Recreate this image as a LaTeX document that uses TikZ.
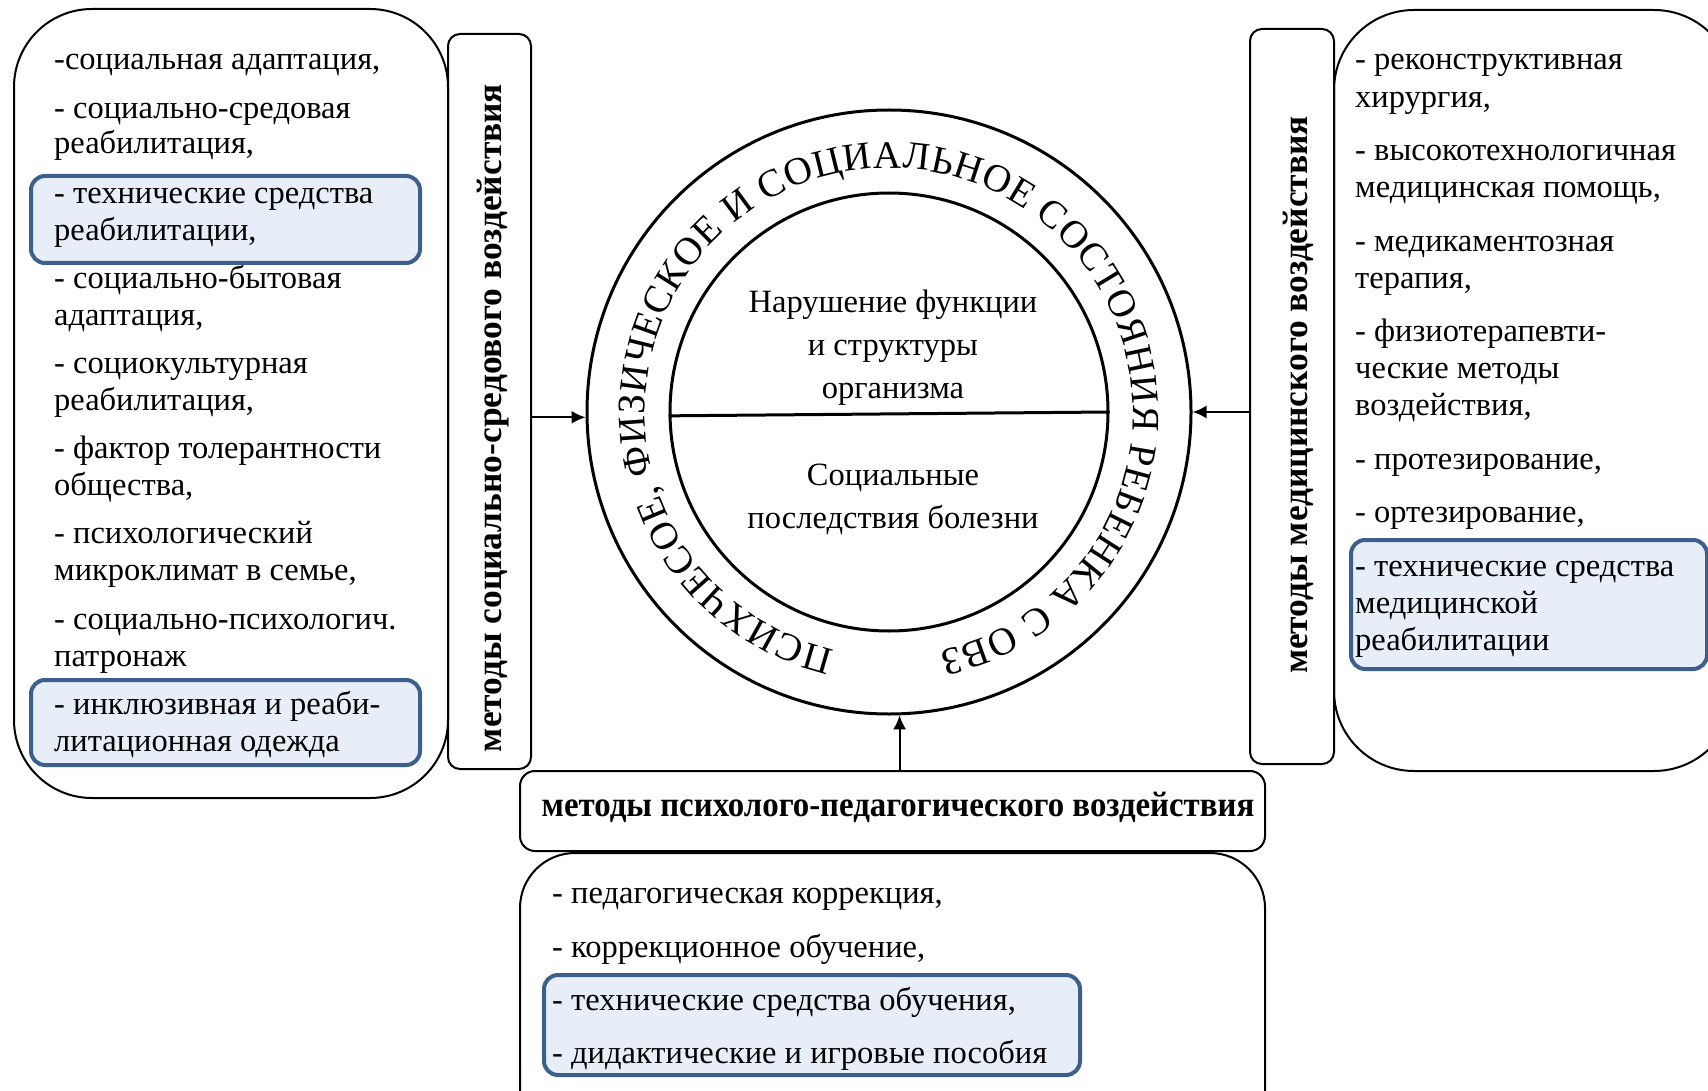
\documentclass[tikz,border=0pt]{standalone}
\usepackage{fontspec}
\setmainfont{Liberation Serif}
\usetikzlibrary{arrows.meta,decorations.text,calc}
\definecolor{hlfill}{HTML}{E8EEF7}
\definecolor{hlline}{HTML}{3D5F8E}
\newcommand{\lfnt}{\fontsize{32.5}{37}\selectfont}
\newcommand{\cfnt}{\fontsize{32.5}{43}\selectfont}
\newcommand{\bfnt}{\bfseries\fontsize{35.4}{40}\selectfont}
\newcommand{\rfnt}{\fontsize{39}{39}\selectfont}
\begin{document}
\begin{tikzpicture}[x=1pt,y=-1pt,
  box/.style={draw=black, line width=2pt, rounded corners=#1, anchor=north west, inner sep=0pt},
  hl/.style={draw=hlline, fill=hlfill, line width=4pt, rounded corners=14pt, anchor=north west, inner sep=0pt},
  txt/.style={anchor=west, inner sep=0pt, font=\lfnt, text height=22pt, text depth=7pt},
  ring/.style={circle, draw=black, line width=3pt, inner sep=0pt},
  arr/.style={line width=2pt, -{Latex[length=14pt,width=13pt]}},
  vlab/.style={rotate=90, font=\bfnt, inner sep=0pt}]
\useasboundingbox (0,0) rectangle (1708,1091);
\fill[white] (0,0) rectangle (1708,1091);

% left group
\node[box=78pt, minimum width=434pt, minimum height=789pt] (lbig) at (13,8) {};
\node[box=12pt, minimum width=83pt, minimum height=735pt] (lvbox) at (447,33) {};
\node[hl, minimum width=389pt, minimum height=87pt] (hl1) at (29,174) {};
\node[hl, minimum width=389pt, minimum height=85pt] (hl2) at (29,678) {};
\foreach \y/\t [count=\i] in {62/{-социальная адаптация,},111/{- социально-средовая},146/{реабилитация,},196/{- технические средства},233/{реабилитации,},281/{- социально-бытовая},318/{адаптация,},366/{- социокультурная},403/{реабилитация,},451/{- фактор толерантности},488/{общества,},536/{- психологический},573/{микроклимат в семье,},622/{- социально-психологич.},659/{патронаж},707/{- инклюзивная и реаби-},744/{литационная одежда}}
  \node[txt] (L\i) at (54,\y) {\t};
\node[vlab] (lvlab) at (493,418) {методы социально-средового воздействия};

% right group
\node[box=80pt, minimum width=400pt, minimum height=761pt] (rbig) at (1333,9) {};
\node[box=12pt, minimum width=84pt, minimum height=735pt] (rvbox) at (1249,28) {};
\node[hl, minimum width=356pt, minimum height=129pt] (hl3) at (1349,538) {};
\foreach \y/\t [count=\i] in {62/{- реконструктивная},100/{хирургия,},153/{- высокотехнологичная},190/{медицинская помощь,},244/{- медикаментозная},281/{терапия,},334/{- физиотерапевти-},371/{ческие методы},408/{воздействия,},462/{- протезирование,},515/{- ортезирование,},569/{- технические средства},606/{медицинской},643/{реабилитации}}
  \node[txt] (R\i) at (1355,\y) {\t};
\node[vlab] (rvlab) at (1298,395) {методы медицинского воздействия};

% bottom group
\node[box=15pt, minimum width=745pt, minimum height=80pt] (ptitle) at (519,770) {};
\node[font=\bfnt, inner sep=0pt, xscale=0.928] (ptlab) at (898,807) {методы психолого-педагогического воздействия};
\node[box=55pt, minimum width=745pt, minimum height=320pt] (plist) at (519,852) {};
\node[hl, minimum width=536pt, minimum height=100pt] (hl4) at (542,973) {};
\foreach \y/\t [count=\i] in {896/{- педагогическая коррекция,},950/{- коррекционное обучение,},1003/{- технические средства обучения,},1056/{- дидактические и игровые пособия}}
  \node[txt] (B\i) at (552,\y) {\t};

% circles
\node[ring, minimum size=604pt] (outer) at (889,412) {};
\node[ring, minimum size=438pt] (inner) at (889,412) {};
\draw[line width=3pt] (inner.181) -- (inner.0);
\node[align=center, font=\cfnt, inner sep=0pt] (upper) at (893,348) {Нарушение функции\\и структуры\\организма};
\node[align=center, font=\cfnt, inner sep=0pt] (lower) at (893,499) {Социальные\\последствия болезни};
\path[decorate, decoration={text along path, text align={fit to path},
  text={|\rfnt|ПСИХЧЕСОЕ, ФИЗИЧЕСКОЕ И СОЦИАЛЬНОЕ СОСТОЯНИЯ РЕБЕНКА С ОВЗ}}]
  ([shift={(outer.center)}]257:244pt) arc[start angle=257, end angle=-78, radius=244pt];

% arrows
\draw[arr] (lvbox.east |- outer.181) -- (outer.181);
\draw[arr] (rvbox.west |- outer.0) -- (outer.0);
\draw[arr] (ptitle.north -| outer.272) -- (outer.272);
\end{tikzpicture}
\end{document}
